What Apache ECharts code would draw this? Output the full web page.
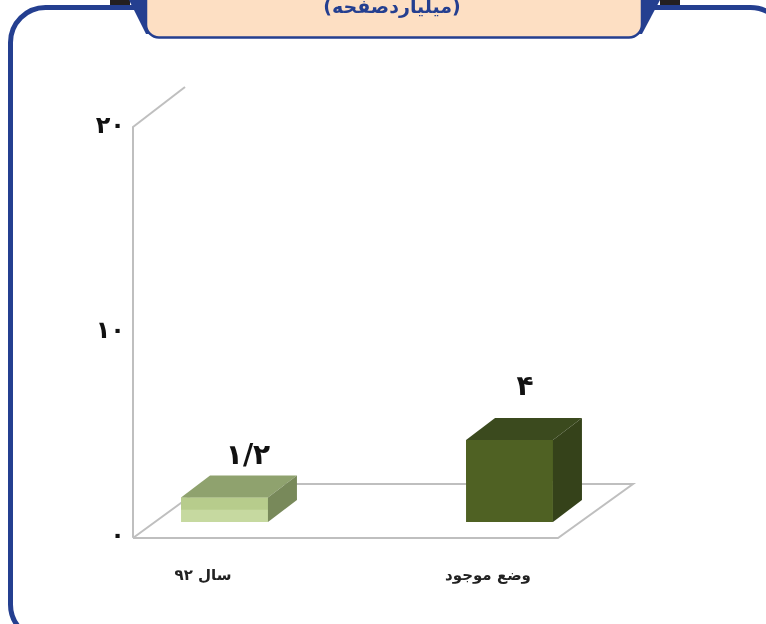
<!DOCTYPE html>
<html><head><meta charset="utf-8">
<style>html,body{margin:0;padding:0;background:#fff}#c{width:766px;height:624px}</style>
<script src="https://cdn.jsdelivr.net/npm/echarts@6/dist/echarts.min.js"></script>
</head><body><div id="c"></div>
<script>
const categories = ['سال ۹۲', 'وضع موجود'];
const values = [1.2, 4];
const valueLabels = ['۱/۲', '۴'];
const titleText = '(میلیاردصفحه)';
const yTicks = {0: '۰', 10: '۱۰', 20: '۲۰'};
const frontColors = ['#c6d9a0', '#4f6123'];
const frontStripe = ['#b7cc8c', '#4f6123'];
const topColors = ['#8fa26e', '#3b4a1e'];
const sideColors = ['#78895a', '#35421a'];
const labelNudge = [[9, 11], [1, 0]];
const BLUE = '#243f90', GREY = '#bfbfbf', FONT = '"DejaVu Sans"';

const chart = echarts.init(document.getElementById('c'), null, {renderer: 'canvas'});
chart.setOption({
  animation: false,
  backgroundColor: '#fff',
  grid: {left: 82, top: 127, width: 570, height: 410},
  xAxis: {
    type: 'category', data: categories,
    axisLine: {show: false}, axisTick: {show: false},
    axisLabel: {margin: 32, padding: [0, 43, 0, 0], color: '#222', fontFamily: FONT, fontWeight: 'bold', fontSize: 15}
  },
  yAxis: {
    type: 'value', min: 0, max: 20, interval: 10, offset: -51,
    splitLine: {show: false}, axisTick: {show: false},
    axisLine: {show: true, lineStyle: {color: GREY, width: 2}},
    axisLabel: {margin: 8, color: '#111', fontFamily: FONT, fontWeight: 'bold', fontSize: 24,
      formatter: v => yTicks[v]}
  },
  graphic: [
    {type: 'polygon', z: -1, shape: {points: [[110,0],[130,0],[130,7],[110,7]]}, style: {fill: '#231f20'}},
    {type: 'polygon', z: -1, shape: {points: [[660,0],[680,0],[680,7],[660,7]]}, style: {fill: '#231f20'}},
    {type: 'rect', z: 0, shape: {x: 10.5, y: 7.5, width: 775, height: 632, r: 35},
      style: {fill: '#fff', stroke: BLUE, lineWidth: 5}},
    {type: 'polygon', z: 1, shape: {points: [[129,0],[660,0],[642,34],[146,34]]}, style: {fill: BLUE}},
    {type: 'rect', z: 2, shape: {x: 146, y: -20, width: 496, height: 57.5, r: 13},
      style: {fill: '#fddfc3', stroke: BLUE, lineWidth: 2.5}},
    {type: 'text', z: 3, style: {x: 392, y: 8, text: titleText, align: 'center', verticalAlign: 'middle',
      fill: BLUE, font: 'bold 19px ' + FONT}},
    {type: 'polyline', z: 4, shape: {points: [[133,538],[207,484],[633,484],[558,538],[133,538]]},
      style: {stroke: GREY, lineWidth: 2, fill: 'none'}},
    {type: 'polyline', z: 4, shape: {points: [[133,127],[185,87]]}, style: {stroke: GREY, lineWidth: 2, fill: 'none'}}
  ],
  series: [{
    type: 'custom', z: 10,
    data: values.map((v, i) => [i, v]),
    encode: {x: 0, y: 1},
    renderItem(params, api) {
      const i = api.value(0), v = api.value(1);
      const lift = 15, dx = 29, dy = 22;
      const bw = api.size([1, 0])[0] * 0.305;
      const cx = api.coord([i, 0])[0];
      const y0 = api.coord([i, 0])[1] - lift;
      const y1 = api.coord([i, v])[1] - lift;
      const l = cx - bw / 2, r = cx + bw / 2, ym = (y0 + y1) / 2;
      const poly = (pts, fill) => ({type: 'polygon', shape: {points: pts}, style: {fill}});
      return {type: 'group', children: [
        poly([[l,y1],[r,y1],[r,y0],[l,y0]], frontColors[i]),
        poly([[l,y1],[r,y1],[r,ym],[l,ym]], frontStripe[i]),
        poly([[l,y1],[l+dx,y1-dy],[r+dx,y1-dy],[r,y1]], topColors[i]),
        poly([[r,y1],[r+dx,y1-dy],[r+dx,y0-dy],[r,y0]], sideColors[i]),
        {type: 'text', style: {x: cx + dx / 2 + labelNudge[i][0], y: y1 - dy - 30 + labelNudge[i][1], text: valueLabels[i], align: 'center',
          verticalAlign: 'middle', fill: '#111', font: 'bold 28px ' + FONT}}
      ]};
    }
  }]
});
</script></body></html>
